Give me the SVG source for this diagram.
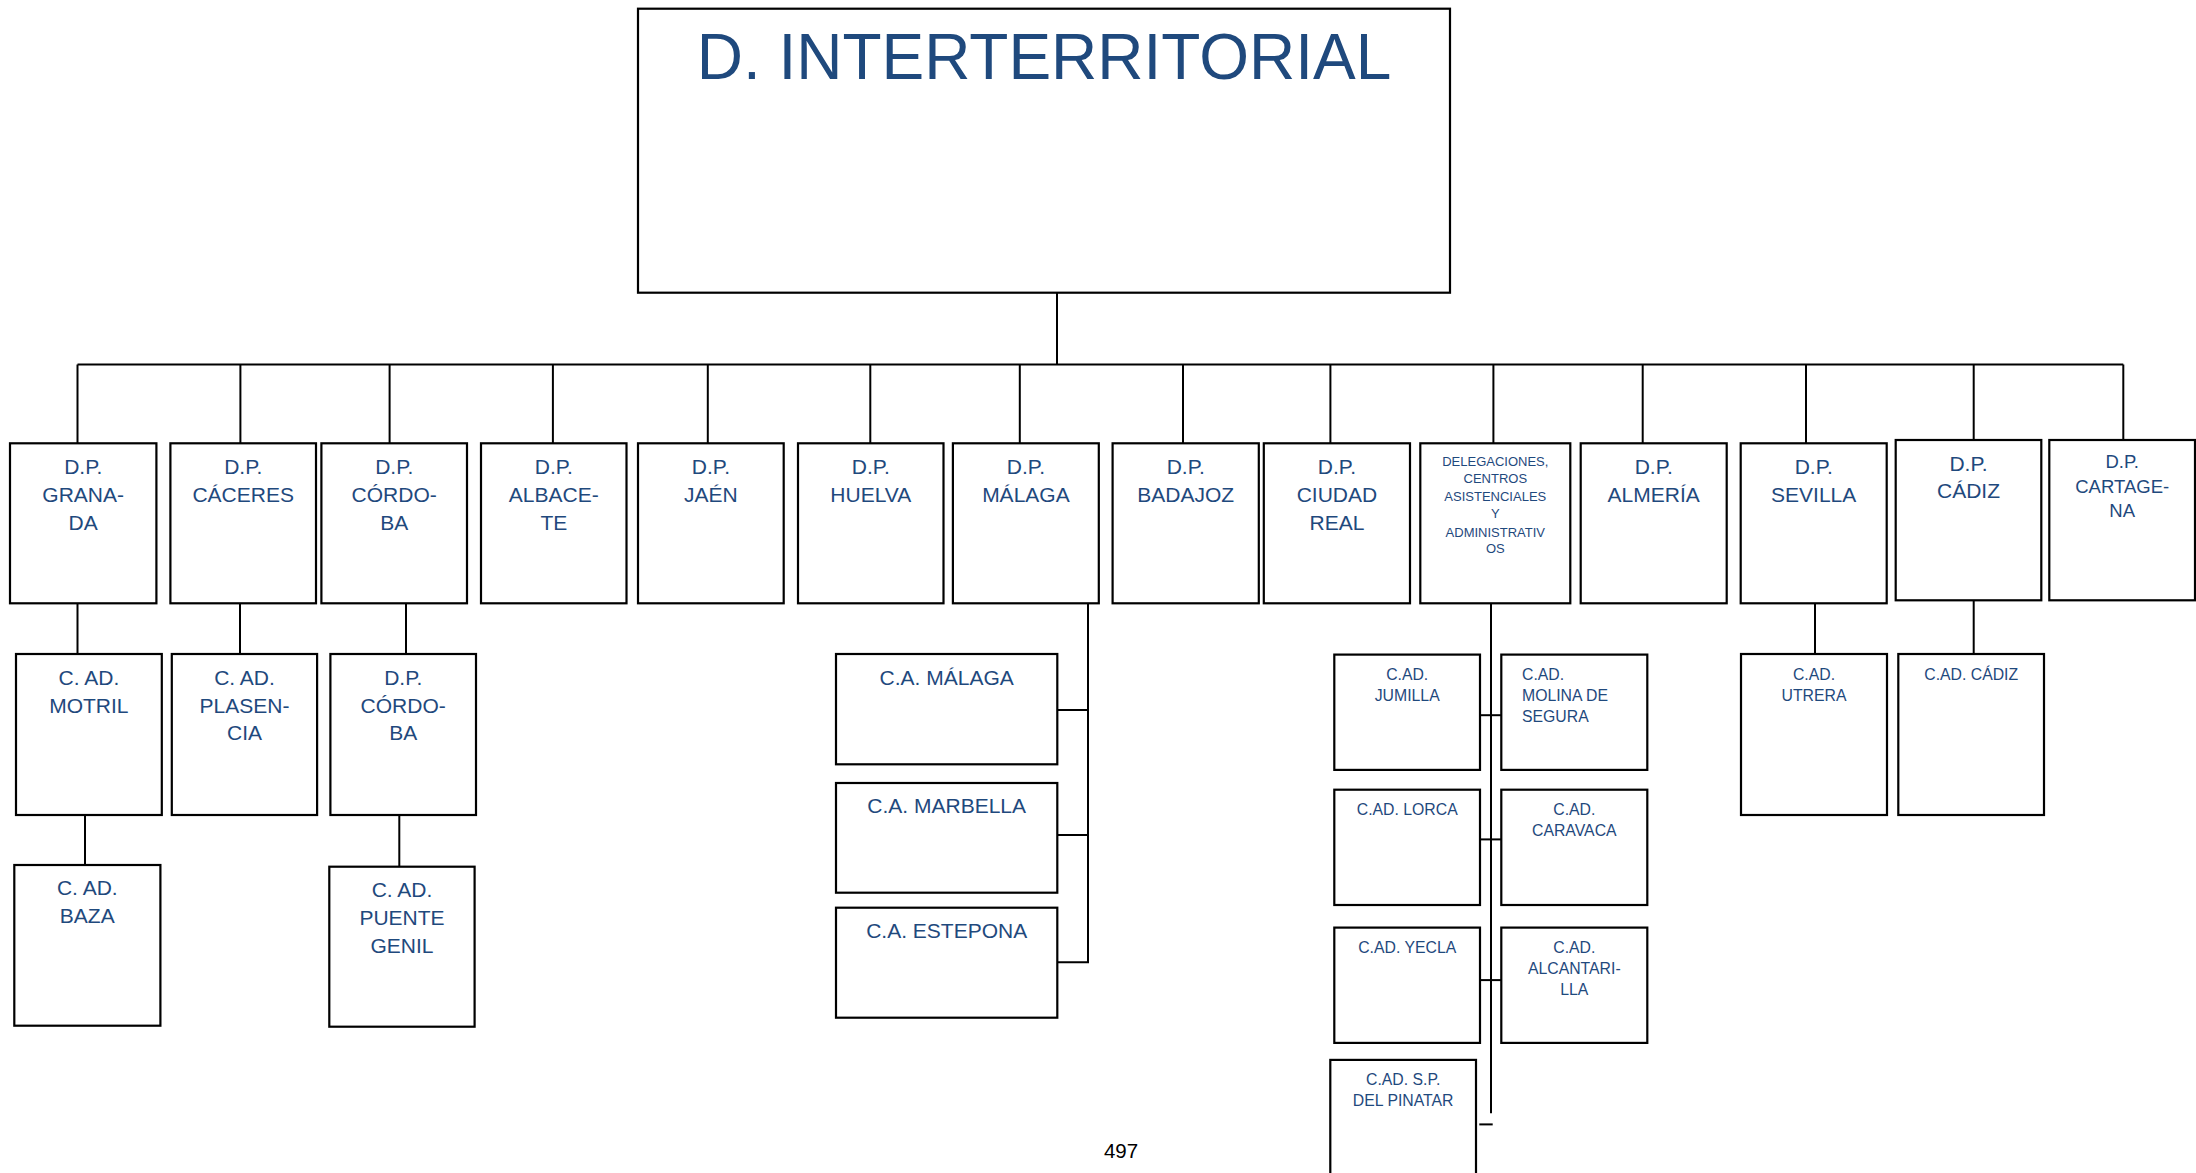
<svg xmlns="http://www.w3.org/2000/svg" width="2196" height="1173" viewBox="0 0 2196 1173">
<style>
.box{fill:#fff;stroke:#000;stroke-width:2.2}
.t{font-family:"Liberation Sans",Arial,sans-serif;fill:#1F497D;text-anchor:middle}
.l{font-size:21px}
.m{font-size:15.8px}
.s{font-size:13px}
.c line,.c path{stroke:#000;stroke-width:2;fill:none}
</style>
<rect width="2196" height="1173" fill="#fff"/>
<g class="c" id="connectors">
<line x1="1057" y1="293" x2="1057" y2="364.5"/>
<line x1="77.5" y1="364.5" x2="2123.3" y2="364.5"/>
<line x1="77.5" y1="364.5" x2="77.5" y2="443"/>
<line x1="240.4" y1="364.5" x2="240.4" y2="443"/>
<line x1="389.6" y1="364.5" x2="389.6" y2="443"/>
<line x1="552.9" y1="364.5" x2="552.9" y2="443"/>
<line x1="707.8" y1="364.5" x2="707.8" y2="443"/>
<line x1="870.3" y1="364.5" x2="870.3" y2="443"/>
<line x1="1019.8" y1="364.5" x2="1019.8" y2="443"/>
<line x1="1183" y1="364.5" x2="1183" y2="443"/>
<line x1="1330.4" y1="364.5" x2="1330.4" y2="443"/>
<line x1="1493.4" y1="364.5" x2="1493.4" y2="443"/>
<line x1="1642.7" y1="364.5" x2="1642.7" y2="443"/>
<line x1="1806" y1="364.5" x2="1806" y2="443"/>
<line x1="1973.7" y1="364.5" x2="1973.7" y2="440"/>
<line x1="2123.3" y1="364.5" x2="2123.3" y2="440"/>
<line x1="77.5" y1="603" x2="77.5" y2="654"/>
<line x1="240" y1="603" x2="240" y2="654"/>
<line x1="406" y1="603" x2="406" y2="654"/>
<line x1="85" y1="815" x2="85" y2="865"/>
<line x1="399.3" y1="815" x2="399.3" y2="866.7"/>
<path d="M1088 603 V962.3 H1057.3 M1057.3 710 H1088 M1057.3 835 H1088"/>
<line x1="1491" y1="603" x2="1491" y2="1113.2"/>
<line x1="1479" y1="715.2" x2="1502" y2="715.2"/>
<line x1="1480" y1="839.4" x2="1503" y2="839.4"/>
<line x1="1480" y1="980.1" x2="1503" y2="980.1"/>
<line x1="1479.3" y1="1124.4" x2="1492.7" y2="1124.4"/>
<line x1="1815" y1="603" x2="1815" y2="654"/>
<line x1="1973.7" y1="600" x2="1973.7" y2="654"/>
</g>
<g id="n-root"><rect class="box" x="638" y="8.7" width="812" height="284"/><text class="t" x="1044" y="78.7" font-size="64">D. INTERTERRITORIAL</text></g>
<g id="n-granada"><rect class="box" x="10" y="443.3" width="146.4" height="160"/><text class="t l" x="83.2" y="474">D.P.<tspan x="83.2" y="501.7">GRANA-</tspan><tspan x="83.2" y="530">DA</tspan></text></g>
<g id="n-caceres"><rect class="box" x="170.4" y="443.3" width="145.6" height="160"/><text class="t l" x="243.2" y="474">D.P.<tspan x="243.2" y="501.7">CÁCERES</tspan></text></g>
<g id="n-cordoba"><rect class="box" x="321.4" y="443.3" width="145.6" height="160"/><text class="t l" x="394.2" y="474">D.P.<tspan x="394.2" y="501.7">CÓRDO-</tspan><tspan x="394.2" y="530">BA</tspan></text></g>
<g id="n-albacete"><rect class="box" x="481" y="443.3" width="145.5" height="160"/><text class="t l" x="553.8" y="474">D.P.<tspan x="553.8" y="501.7">ALBACE-</tspan><tspan x="553.8" y="530">TE</tspan></text></g>
<g id="n-jaen"><rect class="box" x="638" y="443.3" width="145.7" height="160"/><text class="t l" x="710.9" y="474">D.P.<tspan x="710.9" y="501.7">JAÉN</tspan></text></g>
<g id="n-huelva"><rect class="box" x="798" y="443.3" width="145.5" height="160"/><text class="t l" x="870.8" y="474">D.P.<tspan x="870.8" y="501.7">HUELVA</tspan></text></g>
<g id="n-malaga"><rect class="box" x="952.9" y="443.3" width="145.9" height="160"/><text class="t l" x="1025.9" y="474">D.P.<tspan x="1025.9" y="501.7">MÁLAGA</tspan></text></g>
<g id="n-badajoz"><rect class="box" x="1112.6" y="443.3" width="146.2" height="160"/><text class="t l" x="1185.7" y="474">D.P.<tspan x="1185.7" y="501.7">BADAJOZ</tspan></text></g>
<g id="n-ciudadreal"><rect class="box" x="1263.8" y="443.3" width="146.2" height="160"/><text class="t l" x="1336.9" y="474">D.P.<tspan x="1336.9" y="501.7">CIUDAD</tspan><tspan x="1336.9" y="530">REAL</tspan></text></g>
<g id="n-delegaciones"><rect class="box" x="1420.3" y="443.3" width="150" height="160"/><text class="t s" x="1495.3" y="466">DELEGACIONES,<tspan x="1495.3" y="483.3">CENTROS</tspan><tspan x="1495.3" y="500.7">ASISTENCIALES</tspan><tspan x="1495.3" y="518.3">Y</tspan><tspan x="1495.3" y="536.7">ADMINISTRATIV</tspan><tspan x="1495.3" y="553.3">OS</tspan></text></g>
<g id="n-almeria"><rect class="box" x="1580.7" y="443.3" width="146" height="160"/><text class="t l" x="1653.7" y="474">D.P.<tspan x="1653.7" y="501.7">ALMERÍA</tspan></text></g>
<g id="n-sevilla"><rect class="box" x="1740.7" y="443.3" width="146" height="160"/><text class="t l" x="1813.7" y="474">D.P.<tspan x="1813.7" y="501.7">SEVILLA</tspan></text></g>
<g id="n-cadiz"><rect class="box" x="1895.7" y="440" width="145.6" height="160.3"/><text class="t l" x="1968.5" y="470.7">D.P.<tspan x="1968.5" y="498.3">CÁDIZ</tspan></text></g>
<g id="n-cartagena"><rect class="box" x="2049.3" y="440" width="145.7" height="160.3"/><text class="t" font-size="18.5" x="2122.2" y="468.3">D.P.<tspan x="2122.2" y="493.3">CARTAGE-</tspan><tspan x="2122.2" y="516.7">NA</tspan></text></g>
<g id="n-motril"><rect class="box" x="16" y="654" width="145.8" height="161"/><text class="t l" x="88.9" y="685">C. AD.<tspan x="88.9" y="712.7">MOTRIL</tspan></text></g>
<g id="n-plasencia"><rect class="box" x="171.8" y="654" width="145.3" height="161"/><text class="t l" x="244.5" y="685">C. AD.<tspan x="244.5" y="712.7">PLASEN-</tspan><tspan x="244.5" y="740">CIA</tspan></text></g>
<g id="n-cordoba2"><rect class="box" x="330.4" y="654" width="145.6" height="161"/><text class="t l" x="403.2" y="685">D.P.<tspan x="403.2" y="712.7">CÓRDO-</tspan><tspan x="403.2" y="740">BA</tspan></text></g>
<g id="n-baza"><rect class="box" x="14.3" y="865" width="146.1" height="160.7"/><text class="t l" x="87.3" y="895">C. AD.<tspan x="87.3" y="922.7">BAZA</tspan></text></g>
<g id="n-puentegenil"><rect class="box" x="329.3" y="866.7" width="145.3" height="160"/><text class="t l" x="402" y="897.3">C. AD.<tspan x="402" y="925">PUENTE</tspan><tspan x="402" y="952.7">GENIL</tspan></text></g>
<g id="n-camalaga"><rect class="box" x="836" y="654" width="221.3" height="110.3"/><text class="t l" x="946.7" y="685">C.A. MÁLAGA</text></g>
<g id="n-camarbella"><rect class="box" x="836" y="783" width="221.3" height="109.7"/><text class="t l" x="946.7" y="813.3">C.A. MARBELLA</text></g>
<g id="n-caestepona"><rect class="box" x="836" y="907.7" width="221.3" height="110"/><text class="t l" x="946.7" y="938.3">C.A. ESTEPONA</text></g>
<g id="n-jumilla"><rect class="box" x="1334.3" y="654.6" width="145.7" height="115.3"/><text class="t m" x="1407.2" y="680">C.AD.<tspan x="1407.2" y="701.1">JUMILLA</tspan></text></g>
<g id="n-molina"><rect class="box" x="1501.3" y="654.6" width="146" height="115.3"/><text class="t m" style="text-anchor:start" x="1522" y="680">C.AD.<tspan x="1522" y="701.1">MOLINA DE</tspan><tspan x="1522" y="722.3">SEGURA</tspan></text></g>
<g id="n-lorca"><rect class="box" x="1334.3" y="789.7" width="145.7" height="115.3"/><text class="t m" x="1407.2" y="815">C.AD. LORCA</text></g>
<g id="n-caravaca"><rect class="box" x="1501.3" y="789.7" width="146" height="115.3"/><text class="t m" x="1574.3" y="815">C.AD.<tspan x="1574.3" y="835.9">CARAVACA</tspan></text></g>
<g id="n-yecla"><rect class="box" x="1334.3" y="927.6" width="145.7" height="115.3"/><text class="t m" x="1407.2" y="953.3">C.AD. YECLA</text></g>
<g id="n-alcantarilla"><rect class="box" x="1501.3" y="927.6" width="146" height="115.3"/><text class="t m" x="1574.3" y="953.3">C.AD.<tspan x="1574.3" y="974.1">ALCANTARI-</tspan><tspan x="1574.3" y="994.6">LLA</tspan></text></g>
<g id="n-pinatar"><rect class="box" x="1330.3" y="1059.9" width="145.7" height="130"/><text class="t m" x="1403.2" y="1084.9">C.AD. S.P.<tspan x="1403.2" y="1106.1">DEL PINATAR</tspan></text></g>
<g id="n-utrera"><rect class="box" x="1741" y="654" width="146" height="161"/><text class="t m" x="1814" y="680">C.AD.<tspan x="1814" y="700.7">UTRERA</tspan></text></g>
<g id="n-cadcadiz"><rect class="box" x="1898.3" y="654" width="145.7" height="161"/><text class="t m" x="1971.2" y="680">C.AD. CÁDIZ</text></g>
<text x="1121" y="1157.7" font-family="Liberation Sans, Arial, sans-serif" font-size="20.5" fill="#000" text-anchor="middle">497</text>
</svg>
